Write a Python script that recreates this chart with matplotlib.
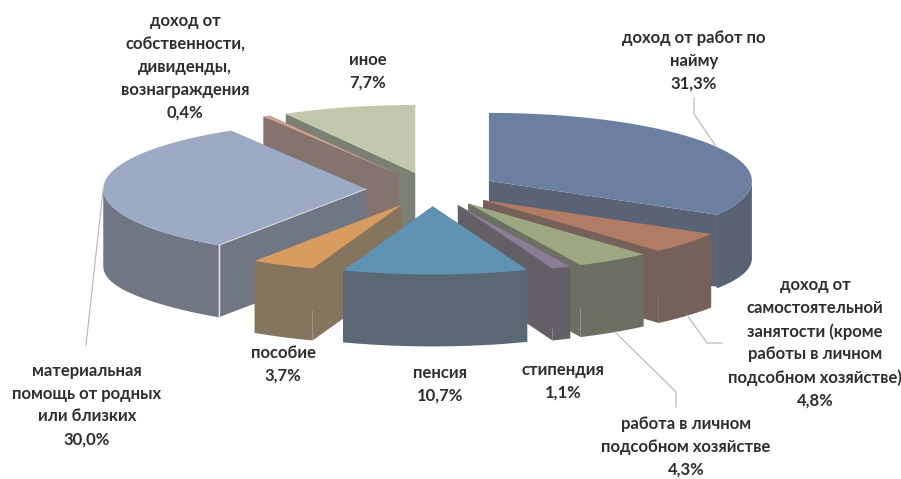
import matplotlib
matplotlib.use('Agg')
import matplotlib.pyplot as plt
import numpy as np

names = ['доход от работ по\nнайму',
         'доход от\nсамостоятельной\nзанятости (кроме\nработы в личном\nподсобном хозяйстве)',
         'работа в личном\nподсобном хозяйстве',
         'стипендия',
         'пенсия',
         'пособие',
         'материальная\nпомощь от родных\nили близких',
         'доход от\nсобственности,\nдивиденды,\nвознаграждения',
         'иное']
values = [31.3, 4.8, 4.3, 1.1, 10.7, 3.7, 30.0, 0.4, 7.7]
top_colors = ['#6B80A0', '#B07C65', '#9DA882', '#8A7D95', '#6093B3',
              '#D89C60', '#9DAAC5', '#D0A090', '#C2C8AC']
wall_colors = ['#5A6375', '#75615A', '#6B7063', '#645E67', '#5A6875',
               '#85745E', '#707684', '#85736E', '#7A8074']
label_pos = [(694, 61), (815, 343), (686, 447), (563, 381), (440, 384),
             (283, 364), (87, 405), (185, 67), (368, 71)]
leaders = [[(694, 98), (694, 114), (715, 145)],
           [(687, 315), (707, 343), (722, 343)],
           [(615, 332), (676, 392), (676, 407)],
           [],
           [],
           [],
           [(103, 190), (86, 345)],
           [],
           []]

# back slices first
draw_order = [8, 7, 6, 0, 1, 2, 3, 5, 4]
cx, cy = 432, 189.4
rx, ry = 263, 68
depth = 72
explode = 0.25

plt.rcParams['font.family'] = ['Lato', 'Open Sans', 'DejaVu Sans']

fig = plt.figure(figsize=(9.01, 4.79), dpi=100)
ax = fig.add_axes([0, 0, 1, 1])
ax.set_xlim(0, 901)
ax.set_ylim(479, 0)
ax.axis('off')

edges = np.cumsum([0] + values) / sum(values) * 2 * np.pi

for i in draw_order:
    a1, a2 = edges[i], edges[i + 1]
    mid = (a1 + a2) / 2
    px = cx + explode * rx * np.sin(mid)
    py = cy - explode * ry * np.cos(mid)
    t = np.linspace(a1, a2, 80)
    x = px + rx * np.sin(t)
    y = py - ry * np.cos(t)
    # cut walls
    for j in (0, -1):
        ax.fill([px, x[j], x[j], px], [py, y[j], y[j] + depth, py + depth],
                color=wall_colors[i], lw=0)
    # outer wall, only the part that faces the viewer
    lo, hi = max(a1, np.pi / 2), min(a2, 3 * np.pi / 2)
    if lo < hi:
        t2 = np.linspace(lo, hi, 80)
        x2 = px + rx * np.sin(t2)
        y2 = py - ry * np.cos(t2)
        # wall looks a bit taller near the left and right extremes
        d2 = depth + 5 * np.sin(t2) ** 8
        ax.fill(np.r_[x2, x2[::-1]], np.r_[y2, (y2 + d2)[::-1]],
                color=wall_colors[i], lw=0)
    ax.fill(np.r_[px, x], np.r_[py, y], color=top_colors[i], lw=0)
    if i == 6:
        ax.plot([x[0], x[0]], [y[0], y[0] + depth], color='#E8E8E8', lw=1)
        ax.plot([px, x[0]], [py, y[0]], color='#E8E8E8', lw=0.6)

for i, pts in enumerate(leaders):
    if pts:
        xs, ys = zip(*pts)
        ax.plot(xs, ys, color='#B5B5B5', lw=0.8)

for name, v, (lx, ly) in zip(names, values, label_pos):
    txt = name + '\n' + f'{v:.1f}%'.replace('.', ',')
    ax.text(lx, ly, txt, ha='center', va='center', fontsize=12, fontweight='bold',
            color='#2E2E2E', linespacing=1.52)

fig.savefig('out.png', dpi=100)
